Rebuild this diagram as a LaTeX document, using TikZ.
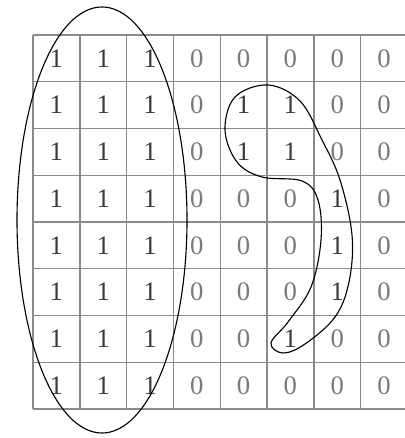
\documentclass[tikz,border=0pt]{standalone}
\usepackage{xcolor}
\usepackage{fontspec}
\setmainfont{Liberation Serif}
\usepackage{tikz}
\usetikzlibrary{calc}
\definecolor{gridGray}{HTML}{8A8A8A}
\definecolor{oneInk}{HTML}{3A3A3A}
\definecolor{zeroInk}{HTML}{7A7A7A}
\tikzset{
  gridline/.style={line width=1pt, gridGray},
  bitone/.style={font=\fontsize{19}{23}\selectfont, text=oneInk, inner sep=0pt},
  bitzero/.style={font=\fontsize{19}{23}\selectfont, text=zeroInk, inner sep=0pt},
  region/.style={line width=0.8pt, black}
}
\begin{document}
\begin{tikzpicture}[x=0.025cm, y=-0.025cm]
  \useasboundingbox (0,0) rectangle (405,438);
  % grid
  \foreach \j in {0,...,8}
    \draw[gridline] (33,{35+46.75*\j}) -- (405,{35+46.75*\j});
  \foreach \i in {0,...,7}
    \draw[gridline] ({33+46.8*\i},35) -- ({33+46.8*\i},409);
  % pixel values
  \foreach \row/\vals in {0/{1,1,1,0,0,0,0,0}, 1/{1,1,1,0,1,1,0,0},
      2/{1,1,1,0,1,1,0,0}, 3/{1,1,1,0,0,0,1,0}, 4/{1,1,1,0,0,0,1,0},
      5/{1,1,1,0,0,0,1,0}, 6/{1,1,1,0,0,1,0,0}, 7/{1,1,1,0,0,0,0,0}}
    \foreach \v [count=\c from 0] in \vals {
      \ifnum\v=1
        \node[bitone] (b-\row-\c) at ({33+46.8*(\c+0.5)},{35+46.75*(\row+0.5)}) {\v};
      \else
        \node[bitzero] (b-\row-\c) at ({33+46.8*(\c+0.5)},{35+46.75*(\row+0.5)}) {\v};
      \fi
    };
  % connected regions
  \draw[region] (102,220) ellipse [x radius=85, y radius=213];
  \draw[region] plot[smooth cycle, tension=0.6] coordinates {
    (268,85) (300,101) (322,140) (340,180) (352,235) (349,282) (335,317)
    (305,344) (283,353) (271,343) (288,322) (311,287) (321,240) (318,200)
    (302,181) (262,177) (237,162) (225,130) (235,97)};
\end{tikzpicture}
\end{document}
